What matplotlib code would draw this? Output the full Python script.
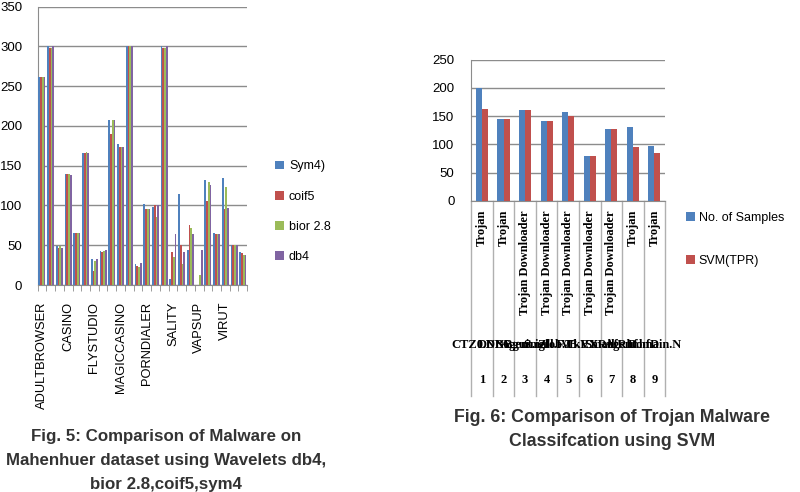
import numpy as np
import matplotlib
matplotlib.use("Agg")
import matplotlib.pyplot as plt
import matplotlib.transforms as mtransforms

plt.rcParams['font.family'] = ['Liberation Sans', 'DejaVu Sans']

# ---- Fig. 5 data (24 categories, only every third one labelled) ----
malware_labels = ['ADULTBROWSER', 'CASINO', 'FLYSTUDIO', 'MAGICCASINO',
                  'PORNDIALER', 'SALITY', 'VAPSUP', 'VIRUT']
wavelets = ['Sym4)', 'coif5', 'bior 2.8', 'db4']
sym4 = [261, 300, 49, 140, 66, 166, 33, 43, 208, 177, 300, 27,
        102, 98, 300, 7, 115, 44, 0, 132, 65, 135, 50, 41]
coif5 = [261, 298, 47, 139, 66, 166, 18, 42, 190, 174, 300, 24,
         96, 100, 298, 41, 50, 76, 0, 106, 64, 96, 50, 40]
bior28 = [261, 298, 49, 139, 66, 167, 30, 43, 208, 174, 300, 23,
          96, 85, 298, 35, 27, 72, 13, 130, 64, 123, 50, 38]
db4 = [261, 300, 47, 138, 66, 166, 33, 44, 208, 174, 300, 28,
       96, 100, 300, 64, 41, 64, 44, 126, 64, 97, 50, 38]

# ---- Fig. 6 data ----
sample_ids = ['1', '2', '3', '4', '5', '6', '7', '8', '9']
trojan_types = ['Trojan', 'Trojan', 'Trojan Downloader', 'Trojan Downloader',
                'Trojan Downloader', 'Trojan Downloader', 'Trojan Downloader',
                'Trojan', 'Trojan']
trojan_names = ['CTZ0.DNB', 'DNB6.gui', 'Agent.igf', 'Small.FJ', 'Zlob.TkVX',
                'VB.EXRuf', 'Small.Rhf', 'Agent.hfD', 'Domain.N']
no_samples = [200, 145, 161, 141, 157, 79, 127, 131, 97]
svm_tpr = [163, 145, 161, 141, 150, 79, 127, 95, 85]

colors = ['#4F81BD', '#C0504D', '#9BBB59', '#8064A2']
grid_c = '#8c8c8c'
cap_c = '#333333'

fig = plt.figure(figsize=(8, 4.92), dpi=100)

# ================= left chart =================
ax1 = fig.add_axes([0.047, 0.4207, 0.262, 0.5657])
n = len(sym4)
x = np.arange(n)
w = 0.2
for i, (vals, lab) in enumerate(zip([sym4, coif5, bior28, db4], wavelets)):
    ax1.bar(x + (i - 1.5) * w, vals, width=w, color=colors[i], label=lab,
            zorder=3, linewidth=0)
ax1.set_xlim(-0.5, n - 0.5)
ax1.set_ylim(0, 350)
ax1.set_yticks(np.arange(0, 351, 50))
ax1.yaxis.grid(True, color=grid_c, linewidth=1.0, zorder=0)
ax1.tick_params(axis='y', length=0, pad=11, labelsize=9.5)
ax1.set_xticks(x[::3])
ax1.set_xticklabels(malware_labels, rotation=90, fontsize=9.3)
ax1.tick_params(axis='x', which='major', length=0, pad=12)
ax1.set_xticks(np.arange(-0.5, n, 1), minor=True)
ax1.tick_params(axis='x', which='minor', length=4, color=grid_c, direction='out')
for s in ['top', 'right']:
    ax1.spines[s].set_visible(False)
for s in ['left', 'bottom']:
    ax1.spines[s].set_color(grid_c)
ax1.legend(loc='upper left', bbox_to_anchor=(1.08, 0.488), frameon=False,
           fontsize=9, handlelength=0.7, handleheight=0.7,
           labelspacing=1.45, handletextpad=0.4)

for txt, yy in [('Fig. 5: Comparison of Malware on', 437),
                ('Mahenhuer dataset using Wavelets db4,', 461),
                ('bior 2.8,coif5,sym4', 484)]:
    fig.text(0.208, 1 - yy / 492, txt, ha='center', va='center',
             fontsize=12.2, fontweight='bold', color=cap_c)

# ================= right chart =================
ax2 = fig.add_axes([0.589, 0.592, 0.2425, 0.2866])
m = len(no_samples)
x2 = np.arange(m)
bw = 0.28
ax2.bar(x2 - bw / 2, no_samples, width=bw, color=colors[0], label='No. of Samples',
        zorder=3, linewidth=0)
ax2.bar(x2 + bw / 2, svm_tpr, width=bw, color=colors[1], label='SVM(TPR)',
        zorder=3, linewidth=0)
ax2.set_xlim(-0.5, m - 0.5)
ax2.set_ylim(0, 250)
ax2.set_yticks(np.arange(0, 251, 50))
ax2.yaxis.grid(True, color=grid_c, linewidth=1.0, zorder=0)
ax2.tick_params(axis='y', length=0, pad=12, labelsize=9.5)
ax2.set_xticks([])
for s in ['top', 'right']:
    ax2.spines[s].set_visible(False)
for s in ['left', 'bottom']:
    ax2.spines[s].set_color(grid_c)

# table-like category area below the axis
trans = mtransforms.blended_transform_factory(ax2.transData, ax2.transAxes)
bottom = -(396 - 200.7) / 141.0
for b in np.arange(-0.5, m, 1):
    ax2.plot([b, b], [0, bottom], color='#b0b0b0', lw=1.0, transform=trans, clip_on=False)
y_type = -(210 - 200.7) / 141.0
y_name = -(345 - 200.7) / 141.0
y_id = -(380 - 200.7) / 141.0
for i in range(m):
    ax2.text(x2[i], y_type, trojan_types[i], rotation=90, ha='center', va='top',
             transform=trans, family='Liberation Serif', fontweight='bold', fontsize=9)
    ax2.text(x2[i], y_name, trojan_names[i], ha='center', va='center',
             transform=trans, family='Liberation Serif', fontweight='bold', fontsize=9)
    ax2.text(x2[i], y_id, sample_ids[i], ha='center', va='center',
             transform=trans, family='Liberation Serif', fontweight='bold', fontsize=9)

ax2.legend(loc='upper left', bbox_to_anchor=(1.05, 0.0), frameon=False,
           fontsize=9, handlelength=0.7, handleheight=0.7,
           labelspacing=2.5, handletextpad=0.3)

fig.text(0.765, 1 - 418 / 492, 'Fig. 6: Comparison of Trojan Malware', ha='center', va='center',
         fontsize=12.8, fontweight='bold', color=cap_c)
fig.text(0.765, 1 - 442 / 492, 'Classifcation using SVM', ha='center', va='center',
         fontsize=12.8, fontweight='bold', color=cap_c)

fig.savefig('out.png', dpi=100)
